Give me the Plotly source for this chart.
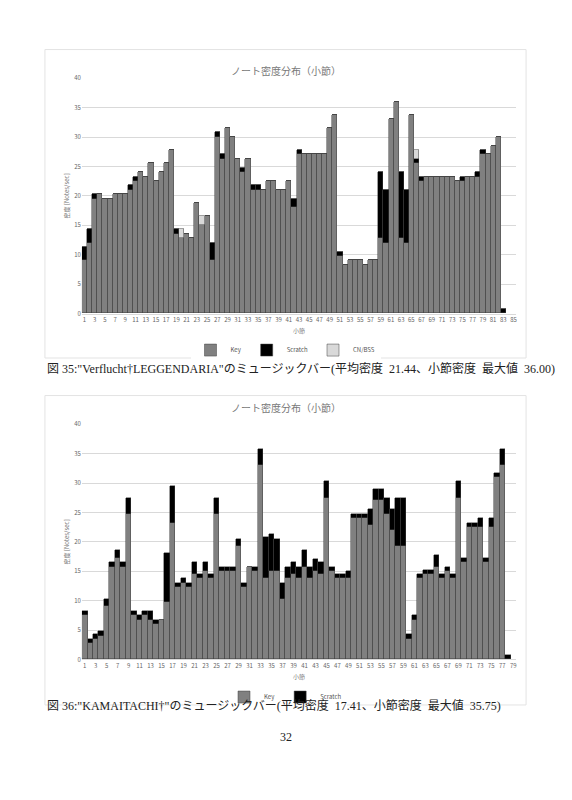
import plotly.graph_objects as go

GRIS, NEGRO, CLARO, BORDE = "#808080", "#000000", "#d9d9d9", "#404040"
JP = "Noto Sans CJK JP"
SERIF = "Liberation Serif, Noto Sans CJK JP"

# ---------------------------------------------------------------- datos
# Fig 35: Verflucht†LEGGENDARIA (compases 1..83)
key1 = [9, 12, 19.5, 20.25, 19.5, 19.5, 20.25, 20.25, 20.25, 21,
        22.5, 24, 23.25, 25.5, 22.5, 24, 25.5, 27.75, 13.5, 12.75,
        13.5, 12.75, 18.75, 15, 16.5, 9, 30, 26.25, 31.5, 30,
        26.25, 24, 26.25, 21, 21, 21, 22.5, 22.5, 21, 21,
        22.5, 18, 27, 27, 27, 27, 27, 27, 31.5, 33.75,
        9.75, 8.25, 9, 9, 9, 8.25, 9, 9, 12.75, 12,
        33, 36, 12.75, 12, 33.75, 25.5, 22.5, 23.25, 23.25, 23.25,
        23.25, 23.25, 23.25, 22.5, 22.5, 23.25, 23.25, 23.25, 27, 27,
        28.5, 30, 0]
scr1 = [2.25, 2.25, 0.75, 0, 0, 0, 0, 0, 0, 0.75,
        0.75, 0, 0, 0, 0, 0, 0, 0, 0.75, 0,
        0, 0, 0, 0, 0, 3, 0.75, 0.75, 0, 0,
        0, 0.75, 0, 0.75, 0.75, 0, 0, 0, 0, 0,
        0, 1.5, 0.75, 0, 0, 0, 0, 0, 0, 0,
        0.75, 0, 0, 0, 0, 0, 0, 0, 11.25, 9,
        0, 0, 11.25, 9, 0, 0.75, 0.75, 0, 0, 0,
        0, 0, 0, 0, 0.75, 0, 0, 0.75, 0.75, 0,
        0, 0, 0.75]
cn1 = [0] * 83
for i in (20, 24, 66):
    cn1[i - 1] = 1.5

# Fig 36: KAMAITACHI† (compases 1..78)
key2 = [7.5, 2.75, 3.5, 4, 9, 15.75, 17.25, 15.75, 24.75, 7.5,
        6.75, 7.5, 6.75, 6, 6.75, 9.75, 23.25, 12.25, 13, 12.25,
        14.5, 13.75, 15, 13.75, 24.75, 15, 15, 15, 19.25, 12.25,
        15.75, 15, 33, 13.75, 15, 15, 10.25, 13.75, 14.5, 13.75,
        15.75, 13.75, 15, 14.5, 27.5, 15, 13.75, 13.75, 13.75, 24,
        24, 24, 22.75, 27, 27, 24.75, 22, 19.25, 19.25, 3.5,
        6.75, 13.75, 14.5, 14.5, 15.75, 13.75, 15, 13.75, 27.5, 16.5,
        22.5, 22.5, 22.5, 16.5, 22.5, 31, 33, 0]
scr2 = [0.75, 0.75, 0.75, 0.75, 1.25, 0.75, 1.25, 0.75, 2.75, 0.75,
        0.75, 0.75, 1.5, 0.75, 0, 8.25, 6.25, 0.75, 0.75, 0.75,
        2, 0.75, 1.5, 0.75, 2.75, 0.75, 0.75, 0.75, 1.25, 0.75,
        0, 0.75, 2.75, 7, 6.25, 5.5, 2.75, 2, 2, 2,
        2.75, 2, 2, 2, 2.75, 0.75, 0.75, 0.75, 1.25, 0.75,
        0.75, 0.75, 2.75, 2, 2, 2.75, 3.5, 8.25, 8.25, 0.75,
        0.75, 0.75, 0.75, 0.75, 2, 0.75, 0.75, 0.75, 2.75, 0.75,
        0.75, 0.75, 1.5, 0.75, 1.5, 0.75, 2.75, 0.75]

titulo = "ノート密度分布（小節）"
cap1 = '図 35:"Verflucht†LEGGENDARIA"のミュージックバー(平均密度  21.44、小節密度  最大値  36.00)'
cap2 = '図 36:"KAMAITACHI†"のミュージックバー(平均密度  17.41、小節密度  最大値  35.75)'

# la pagina tiene 8px de margen: figura 556x784, coordenadas de pagina -> paper
W, H = 556, 784
def px(X):
    return (X - 8) / W
def py(Y):
    return 1 - (Y - 8) / H

fig = go.Figure()

def barra(x, y, nombre, color, xa, ya, leg):
    fig.add_trace(go.Bar(x=x, y=y, name=nombre, marker_color=color,
                         marker_line=dict(color=BORDE, width=0.5),
                         xaxis=xa, yaxis=ya, legend=leg))

m1 = list(range(1, len(key1) + 1))
m2 = list(range(1, len(key2) + 1))
barra(m1, key1, "Key", GRIS, "x", "y", "legend")
barra(m1, scr1, "Scratch", NEGRO, "x", "y", "legend")
barra(m1, cn1, "CN/BSS", CLARO, "x", "y", "legend")
barra(m2, key2, "Key", GRIS, "x2", "y2", "legend2")
barra(m2, scr2, "Scratch", NEGRO, "x2", "y2", "legend2")

eje_y = dict(range=[0, 40], dtick=5, gridcolor="#d9d9d9", gridwidth=0.8,
             tickfont=dict(size=6, color="#666"), zeroline=False,
             title=dict(text="密度 [Notes/sec]", font=dict(size=6, color="#777"), standoff=4))
def eje_x(n, anchor):
    return dict(range=[0.5, n + 0.5], tickvals=list(range(1, n + 1, 2)),
                tickfont=dict(size=6, color="#666"), showgrid=False, ticks="",
                showline=True, linecolor="#d9d9d9", domain=[px(82), px(517)], anchor=anchor,
                title=dict(text="小節", font=dict(size=6, color="#777"), standoff=6))

leyenda = dict(orientation="h", x=0.5, xanchor="center", yanchor="middle",
               font=dict(size=6, color="#555"), itemwidth=30, traceorder="normal")
fig.update_layout(
    width=W, height=H, margin=dict(l=0, r=0, t=0, b=0),
    paper_bgcolor="white", plot_bgcolor="white", barmode="stack", bargap=0,
    font=dict(family=JP, color="#555"),
    xaxis=eje_x(85, "y"), yaxis=dict(eje_y, domain=[py(312), py(74)], anchor="x"),
    xaxis2=eje_x(79, "y2"), yaxis2=dict(eje_y, domain=[py(662), py(424)], anchor="x2"),
    legend=dict(leyenda, y=py(349)),
    legend2=dict(leyenda, y=py(700)),
    showlegend=True,
)

# marcos de los graficos
for y0, y1 in ((45, 357), (395, 708)):
    fig.add_shape(type="rect", xref="paper", yref="paper", x0=px(45), x1=px(527),
                  y0=py(y1), y1=py(y0), line=dict(color="#e3e3e3", width=1))

for y, txt in ((57, titulo), (407, titulo)):
    fig.add_annotation(text=txt, xref="paper", yref="paper", x=px(286), y=py(57 if y == 57 else 407),
                       showarrow=False, font=dict(size=10, color="#777"))
for y, txt in ((368, cap1), (718, cap2)):
    fig.add_annotation(text=txt, xref="paper", yref="paper", x=px(45), y=py(y),
                       xanchor="left", showarrow=False, font=dict(family=SERIF, size=12, color="#222"))
fig.add_annotation(text="32", xref="paper", yref="paper", x=px(286), y=py(750),
                   showarrow=False, font=dict(family=SERIF, size=12, color="#222"))

fig.write_html("out.html")
